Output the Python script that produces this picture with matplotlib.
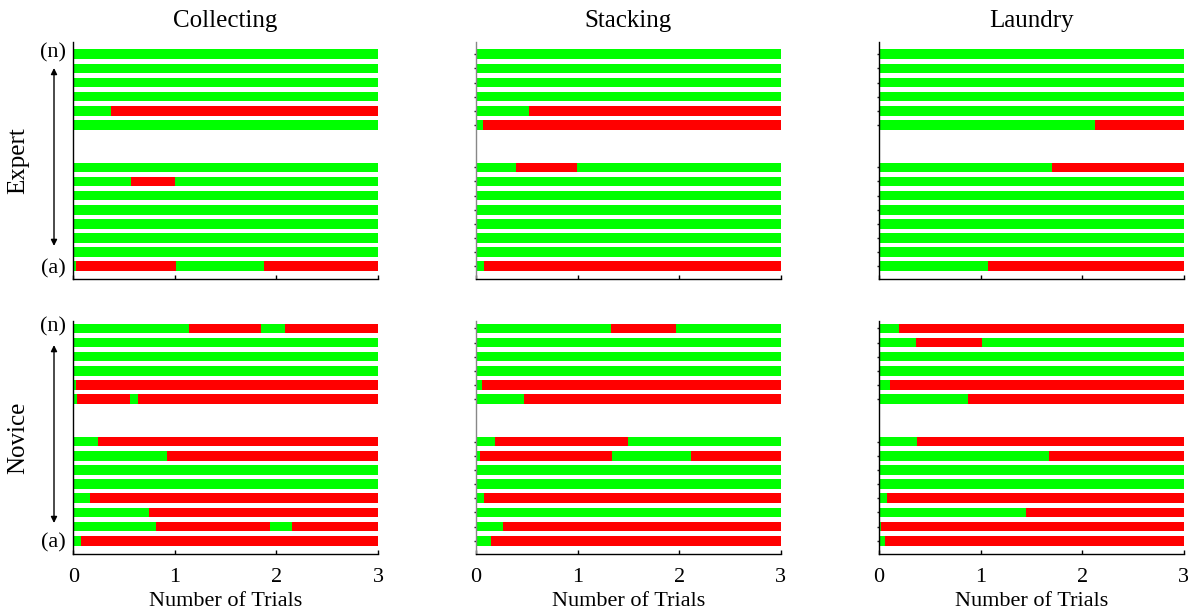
import matplotlib
matplotlib.use('Agg')
import matplotlib.pyplot as plt

plt.rcParams['font.family'] = ['Liberation Serif', 'DejaVu Serif']

# trial range shown on the x axis
max_trials = 3

tasks = ['Collecting', 'Stacking', 'Laundry']
groups = ['Expert', 'Novice']

# row positions, top row first; slots 8 and 9 are left empty as a break
row_slots = [15, 14, 13, 12, 11, 10, 7, 6, 5, 4, 3, 2, 1, 0]

# each row: points where the state flips, starting in success (green)
expert_collecting = [[], [], [], [], [0.37], [],
                     [], [0.57, 1.0], [], [], [], [], [], [0.026, 1.007, 1.875]]
expert_stacking = [[], [], [], [], [0.52], [0.072],
                   [0.39, 0.99], [], [], [], [], [], [], [0.079]]
expert_laundry = [[], [], [], [], [], [2.125],
                  [1.705], [], [], [], [], [], [], [1.069]]
novice_collecting = [[1.138, 1.851, 2.084], [], [], [], [0.026], [0.036, 0.556, 0.641],
                     [0.239], [0.919], [], [], [0.167], [0.749], [0.811, 1.94, 2.149], [0.075]]
novice_stacking = [[1.331, 1.974], [], [], [], [0.056], [0.475],
                   [0.19, 1.492], [0.036, 1.338, 2.118], [], [], [0.075], [], [0.266], [0.144]]
novice_laundry = [[0.197], [0.367, 1.01], [], [], [0.105], [0.879],
                  [0.377], [1.669], [], [], [0.075], [1.443], [0.016], [0.062]]

panels = [[expert_collecting, expert_stacking, expert_laundry],
          [novice_collecting, novice_stacking, novice_laundry]]

ok_color = '#00ff00'
fail_color = '#ff0000'

fig = plt.figure(figsize=(11.88, 6.12), dpi=100)

lefts = [73.3 / 1188, 476 / 1188, 879 / 1188]
width = 304.7 / 1188
row_boxes = [(1 - 279 / 612, 237 / 612), (1 - 554 / 612, 233 / 612)]
ylims = [(-0.9, 15.87), (-0.94, 15.52)]
spine_colors = ['black', '#888888', 'black']

for r, group in enumerate(groups):
    bottom, height = row_boxes[r]
    for c, task in enumerate(tasks):
        ax = fig.add_axes([lefts[c], bottom, width, height])
        rows = panels[r][c]
        for slot, flips in zip(row_slots, rows):
            edges = [0] + flips + [max_trials]
            for k in range(len(edges) - 1):
                color = ok_color if k % 2 == 0 else fail_color
                ax.barh(slot, edges[k + 1] - edges[k], left=edges[k],
                        height=0.68, color=color, linewidth=0)

        ax.set_xlim(0, max_trials)
        ax.set_ylim(*ylims[r])
        ax.spines['top'].set_visible(False)
        ax.spines['right'].set_visible(False)
        ax.spines['left'].set_color(spine_colors[c])
        ax.spines['left'].set_linewidth(1.0)
        ax.spines['bottom'].set_linewidth(1.0)

        ax.set_xticks(range(max_trials + 1))
        ax.tick_params(axis='x', direction='in', length=3, width=1,
                       labelsize=16, pad=10)
        if c == 0:
            ax.set_yticks([])
        else:
            ax.set_yticks(row_slots)
            ax.set_yticklabels([])
            ax.tick_params(axis='y', direction='out', length=1.5, width=1,
                           color='#222222')

        if r == 0:
            ax.set_xticklabels([])
            ax.set_title(task, fontsize=18, pad=11)
        else:
            ax.set_xlabel('Number of Trials', fontsize=16, labelpad=4)

        if c == 0:
            ax.text(-0.07, 15.1, '(n)', fontsize=16, ha='right', va='center',
                    clip_on=False)
            ax.text(-0.07, -0.15, '(a)', fontsize=16, ha='right', va='center',
                    clip_on=False)
            top_y, low_y = (14.03, 1.44) if r == 0 else (13.82, 1.25)
            ax.annotate('', xy=(-0.19, top_y), xytext=(-0.19, low_y),
                        arrowprops=dict(arrowstyle='<|-|>', color='black',
                                        lw=1, mutation_scale=9,
                                        shrinkA=0, shrinkB=0),
                        annotation_clip=False)
            fig.text(18 / 1188, bottom + height / 2, group, fontsize=18,
                     rotation=90, ha='center', va='center')

fig.savefig('out.png', dpi=100)
